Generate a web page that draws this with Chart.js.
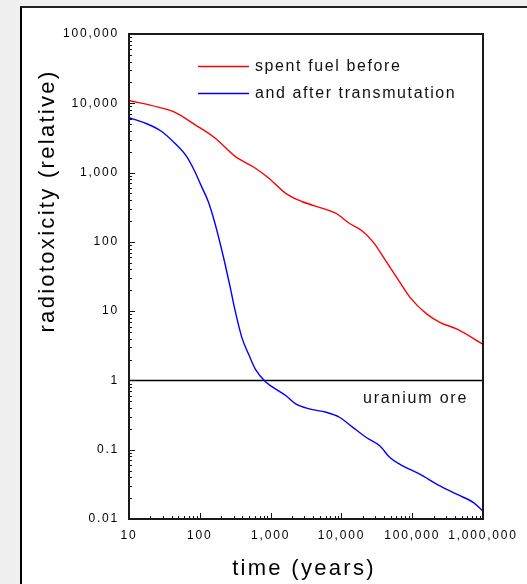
<!DOCTYPE html>
<html>
<head>
<meta charset="utf-8">
<script src="https://cdn.jsdelivr.net/npm/chart.js@4.4.0/dist/chart.umd.min.js"></script>
<style>
  html, body { margin: 0; padding: 0; background: #f0f0f0; }
  #wrap { position: relative; width: 527px; height: 584px; overflow: hidden; }
  #panel { position: absolute; left: 20px; top: 6px; width: 620px; height: 700px;
           background: #fff; border-left: 2px solid #000; border-top: 2px solid #222; }
  #radioChart { position: absolute; left: 0; top: 0; }
</style>
</head>
<body>
<div id="wrap">
  <div id="panel"></div>
  <canvas id="radioChart" width="527" height="584"></canvas>
</div>
<script>
// values (time in years, radiotoxicity relative)
const redYears  = [10, 26, 44, 85, 164, 316, 611, 946, 1634, 2820, 5440, 8410, 13060, 19100, 28000, 43500, 60000, 93000, 161000, 250000, 431000, 1000000];
const redValues = [11000, 8800, 7470, 4930, 3160, 1710, 1156, 828, 501, 379, 304, 257, 184, 147, 100, 51, 31, 15.8, 9.06, 6.85, 5.48, 3.33];

const blueYears  = [10, 16.6, 28.6, 44, 65, 85, 106, 132, 164, 216, 269, 316, 393, 490, 611, 847, 1313, 1634, 2270, 3510, 6080, 9400, 14500, 22500, 34800, 48400, 67300, 130000, 224000, 431000, 743000, 1000000];
const blueValues = [6180, 5220, 3950, 2670, 1710, 1037, 627, 379, 184, 60, 22, 10.1, 4.15, 2.38, 1.44, 0.96, 0.70, 0.605, 0.458, 0.388, 0.347, 0.294, 0.21, 0.15, 0.114, 0.077, 0.0616, 0.044, 0.0316, 0.0226, 0.0171, 0.0129];

const oreYears  = [10, 1000000];
const oreValues = [1, 1];

const xTickValues = [10, 100, 1000, 10000, 100000, 1000000];
const xTickLabels = ['10', '100', '1,000', '10,000', '100,000', '1,000,000'];
const yTickValues = [0.01, 0.1, 1, 10, 100, 1000, 10000, 100000];
const yTickLabels = ['0.01', '0.1', '1', '10', '100', '1,000', '10,000', '100,000'];

const seriesNames = ['spent fuel before', 'and after transmutation', 'uranium ore'];

const FONT = "'Liberation Sans', Arial, sans-serif";

const toPoints = (xs, ys) => xs.map((x, i) => ({ x: x, y: ys[i] }));

// inside tick marks, frame, legend, labels and axis titles
const decor = {
    id: 'decor',
    beforeDraw(chart) {
        chart.ctx.letterSpacing = '1.8px';
    },
    afterDraw(chart) {
        const ctx = chart.ctx;
        const a = chart.chartArea;
        const xs = chart.scales.x;
        const ys = chart.scales.y;

        ctx.save();
        ctx.strokeStyle = '#111';
        ctx.lineWidth = 1;
        ctx.beginPath();
        for (let n = 1; n < 6; n++) {
            for (let k = 1; k < 10; k++) {
                const px = Math.round(xs.getPixelForValue(k * Math.pow(10, n))) + 0.5;
                const len = k === 1 ? 6 : 3;
                ctx.moveTo(px, a.bottom);
                ctx.lineTo(px, a.bottom - len);
            }
        }
        for (let n = -2; n < 5; n++) {
            for (let k = 1; k < 10; k++) {
                const py = Math.round(ys.getPixelForValue(k * Math.pow(10, n))) + 0.5;
                const len = k === 1 ? 6 : 3;
                ctx.moveTo(a.left, py);
                ctx.lineTo(a.left + len, py);
            }
        }
        ctx.stroke();

        // frame
        ctx.lineWidth = 2;
        ctx.strokeStyle = '#1a1a1a';
        ctx.strokeRect(a.left, a.top, a.right - a.left, a.bottom - a.top);

        // legend
        ctx.font = '16px ' + FONT;
        ctx.letterSpacing = '1.6px';
        ctx.textBaseline = 'middle';
        ctx.textAlign = 'left';
        ctx.fillStyle = '#111';
        [0, 1].forEach(i => {
            const ds = chart.data.datasets[i];
            const y = a.top + 32.5 + i * 27;
            ctx.strokeStyle = ds.borderColor;
            ctx.lineWidth = 1.4;
            ctx.beginPath();
            ctx.moveTo(a.left + 69, y);
            ctx.lineTo(a.left + 120, y);
            ctx.stroke();
            ctx.fillText(ds.label, a.left + 126, y);
        });

        // uranium ore label
        ctx.letterSpacing = '1.8px';
        ctx.fillText(seriesNames[2], a.left + 234, ys.getPixelForValue(1) + 18);

        // axis titles
        ctx.font = '22px ' + FONT;
        ctx.letterSpacing = '2.3px';
        ctx.textAlign = 'center';
        ctx.fillStyle = '#000';
        ctx.fillText('time (years)', 304, 569);
        ctx.translate(48, 201);
        ctx.rotate(-Math.PI / 2);
        ctx.fillText('radiotoxicity (relative)', 0, 0);
        ctx.restore();
    }
};

const ctx = document.getElementById('radioChart').getContext('2d');
const radioChart = new Chart(ctx, {
    type: 'line',
    data: {
        datasets: [
            {
                label: seriesNames[0],
                data: toPoints(redYears, redValues),
                borderColor: '#ff0000',
                borderWidth: 1.4,
                pointRadius: 0,
                cubicInterpolationMode: 'monotone',
                fill: false,
            },
            {
                label: seriesNames[1],
                data: toPoints(blueYears, blueValues),
                borderColor: '#0000ff',
                borderWidth: 1.4,
                pointRadius: 0,
                cubicInterpolationMode: 'monotone',
                fill: false,
            },
            {
                label: seriesNames[2],
                data: toPoints(oreYears, oreValues),
                borderColor: '#000000',
                borderWidth: 1.5,
                pointRadius: 0,
                fill: false,
            }
        ]
    },
    options: {
        responsive: false,
        animation: false,
        devicePixelRatio: 1,
        layout: { padding: { left: 0, top: 34, right: 44, bottom: 0 } },
        plugins: {
            legend: { display: false },
            tooltip: { enabled: false },
        },
        scales: {
            x: {
                type: 'logarithmic',
                min: 10,
                max: 1000000,
                afterBuildTicks: s => { s.ticks = xTickValues.map(v => ({ value: v })); },
                afterFit: s => { s.height = 65; },
                ticks: {
                    autoSkip: false,
                    maxRotation: 0,
                    padding: 1,
                    color: '#000',
                    font: { family: FONT, size: 12 },
                    callback: v => xTickLabels[xTickValues.indexOf(v)],
                },
                grid: { display: false },
                border: { display: false },
            },
            y: {
                type: 'logarithmic',
                min: 0.01,
                max: 100000,
                afterBuildTicks: s => { s.ticks = yTickValues.map(v => ({ value: v })); },
                afterFit: s => { s.width = 129; },
                ticks: {
                    autoSkip: false,
                    padding: 2,
                    color: '#000',
                    font: { family: FONT, size: 12 },
                    callback: v => yTickLabels[yTickValues.indexOf(v)],
                },
                grid: { display: false },
                border: { display: false },
            }
        }
    },
    plugins: [decor]
});
</script>
</body>
</html>
